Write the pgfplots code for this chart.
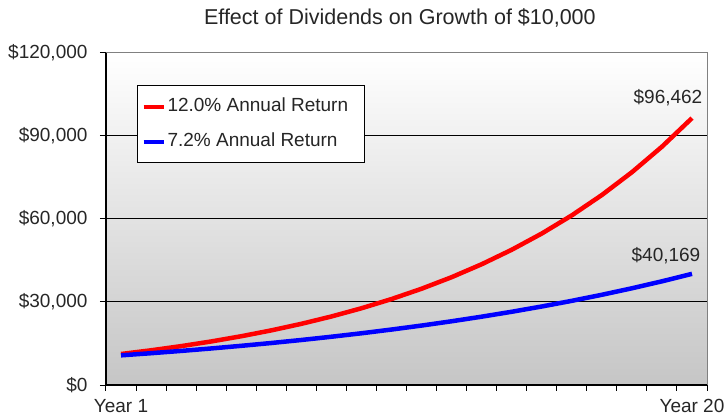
\documentclass[border=0pt]{standalone}
\usepackage{fontspec}
\setmainfont{Liberation Sans}
\usepackage{pgfplots}
\pgfplotsset{compat=1.18}
\begin{document}
\begin{tikzpicture}
\begin{axis}[
  scale only axis,
  width=601bp, height=332bp,
  xmin=0.5, xmax=20.5,
  ymin=0, ymax=120000,
  axis lines*=left,
  axis line style={black, line width=1.2bp},
  tick align=outside,
  xtick={1,20},
  xticklabels={Year 1, Year 20},
  minor xtick={0.5,1.5,...,20.5},
  major x tick style={draw=none},
  minor x tick style={black, line width=1bp},
  minor tick length=6bp,
  major tick length=6bp,
  ytick={30000,60000,90000},
  yticklabels={{\$30,000},{\$60,000},{\$90,000}},
  extra y ticks={0,120000},
  extra y tick labels={{\$0},{\$120,000}},
  extra y tick style={grid=none},
  y tick style={black, line width=1bp},
  ymajorgrids,
  major grid style={black, line width=1bp},
  scaled y ticks=false,
  tick label style={font=\fontsize{19bp}{22bp}\selectfont, text=black!85},
  xticklabel style={yshift=-5bp},
  yticklabel style={xshift=-9bp},
  axis background/.style={shade, top color=white, bottom color=gray!45},
  title={Effect of Dividends on Growth of \$10,000},
  title style={font=\fontsize{21.5bp}{24bp}\selectfont, text=black!85, at={(0.489,1)}, anchor=base, yshift=23bp},
  legend style={at={(0.0516,0.9036)}, anchor=north west, draw=black, line width=1bp, fill=white,
    font=\fontsize{19bp}{22bp}\selectfont, text=black!85,
    nodes={text height=14bp, text depth=4bp, inner sep=2bp},
    row sep=13bp, inner xsep=4bp, inner ysep=10bp},
  legend cell align=left,
  legend image code/.code={\draw[#1, line width=4bp] (0bp,0bp) -- (20bp,0bp);},
  clip=false,
]
\addplot[red, line width=4.5bp] coordinates {
(1,11200) (2,12544) (3,14049) (4,15735) (5,17623) (6,19738) (7,22107) (8,24760)
(9,27731) (10,31058) (11,34785) (12,38960) (13,43635) (14,48871) (15,54736)
(16,61304) (17,68660) (18,76900) (19,86128) (20,96463)};
\addlegendentry{12.0\% Annual Return\hspace*{10bp}}
\addplot[blue, line width=4.5bp] coordinates {
(1,10720) (2,11492) (3,12319) (4,13206) (5,14157) (6,15176) (7,16269) (8,17440)
(9,18696) (10,20042) (11,21485) (12,23032) (13,24691) (14,26468) (15,28374)
(16,30417) (17,32607) (18,34955) (19,37471) (20,40169)};
\addlegendentry{7.2\% Annual Return}
\draw[gray, line width=1bp] (rel axis cs:0,1) -- (rel axis cs:1,1) -- (rel axis cs:1,0);
\node[anchor=base, font=\fontsize{19bp}{22bp}\selectfont, text=black!85, xshift=-24bp, yshift=15bp] at (axis cs:20,96462) {\$96,462};
\node[anchor=base, font=\fontsize{19bp}{22bp}\selectfont, text=black!85, xshift=-26bp, yshift=12bp] at (axis cs:20,40169) {\$40,169};
\end{axis}
\pgfresetboundingbox
\path (current axis.south west) ++(-106bp,-34bp) rectangle ++(724bp,419bp);
\end{tikzpicture}
\end{document}
